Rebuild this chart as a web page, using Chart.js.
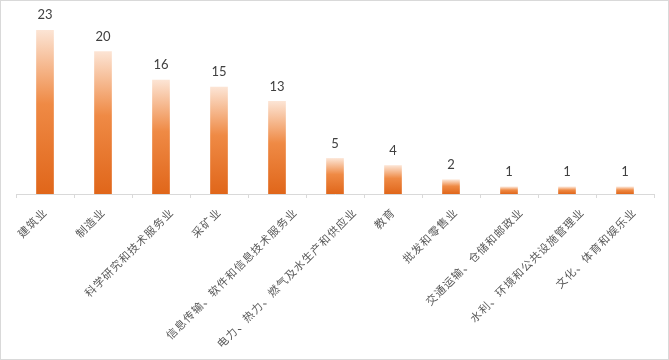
<!DOCTYPE html>
<html>
<head>
<meta charset="utf-8">
<script src="https://cdn.jsdelivr.net/npm/chart.js@4.4.1/dist/chart.umd.min.js"></script>
<style>
  html, body { margin: 0; padding: 0; background: #fff; }
  #wrap { width: 669px; height: 360px; position: relative; }
</style>
</head>
<body>
<div id="wrap"><canvas id="barChart" width="669" height="360"></canvas></div>
<script>
/* ===== DATA ===== */
const categories = [
    "建筑业",
    "制造业",
    "科学研究和技术服务业",
    "采矿业",
    "信息传输、软件和信息技术服务业",
    "电力、热力、燃气及水生产和供应业",
    "教育",
    "批发和零售业",
    "交通运输、仓储和邮政业",
    "水利、环境和公共设施管理业",
    "文化、体育和娱乐业"
];
const counts = [23, 20, 16, 15, 13, 5, 4, 2, 1, 1, 1];
const yMin = 0;
const yMax = 25;

/* ===== gradient per bar (light top -> dark bottom) ===== */
function barGradient(c) {
    const chart = c.chart;
    const y = chart.scales.y;
    if (!chart.chartArea || !y || c.raw === undefined) return "#ED7D31";
    const top = y.getPixelForValue(c.raw);
    const base = y.getPixelForValue(0);
    const g = chart.ctx.createLinearGradient(0, top, 0, base);
    g.addColorStop(0, "#FCE4D4");
    g.addColorStop(0.45, "#EF8A45");
    g.addColorStop(1, "#E0661A");
    return g;
}

/* ===== value labels + rotated category labels + frame ===== */
const labelPlugin = {
    id: "labelPlugin",
    afterDatasetsDraw(chart) {
        const ctx = chart.ctx;
        const meta = chart.getDatasetMeta(0);
        const xs = chart.scales.x;

        ctx.save();
        ctx.fillStyle = "#404040";
        ctx.font = "13px Lato, 'Open Sans', sans-serif";
        ctx.textAlign = "center";
        ctx.textBaseline = "middle";
        meta.data.forEach((bar, i) => {
            ctx.fillText(String(counts[i]), bar.x, bar.y - 15);
        });
        ctx.restore();

        // category labels, rotated -45°, longer ones pushed a bit to the right
        ctx.save();
        ctx.fillStyle = "#595959";
        ctx.font = "11px 'Noto Sans CJK SC', sans-serif";
        ctx.letterSpacing = "1px";
        ctx.textAlign = "right";
        ctx.textBaseline = "middle";
        const yTop = chart.chartArea.bottom + 16;
        categories.forEach((lab, i) => {
            const w = ctx.measureText(lab).width;
            const shift = 0.125 * Math.max(0, w - 36);
            const x = xs.getPixelForValue(i) + shift;
            ctx.save();
            ctx.translate(x, yTop);
            ctx.rotate(-Math.PI / 4);
            ctx.fillText(lab, 0, 0);
            ctx.restore();
        });
        ctx.restore();
    },
    afterDraw(chart) {
        const ctx = chart.ctx;
        ctx.save();
        ctx.strokeStyle = "#d9d9d9";
        ctx.lineWidth = 1;
        ctx.strokeRect(0.5, 0.5, chart.width - 1, chart.height - 1);
        ctx.restore();
    }
};

new Chart(document.getElementById("barChart").getContext("2d"), {
    type: "bar",
    data: {
        labels: categories,
        datasets: [{
            data: counts,
            backgroundColor: barGradient,
            borderWidth: 0,
            barThickness: 17
        }]
    },
    options: {
        responsive: false,
        animation: false,
        devicePixelRatio: 1,
        layout: { padding: { left: 16, right: 15, top: 16, bottom: 0 } },
        plugins: {
            legend: { display: false },
            tooltip: { enabled: false },
            title: { display: false }
        },
        scales: {
            y: { display: false, min: yMin, max: yMax },
            x: {
                offset: true,
                grid: {
                    offset: true,
                    drawOnChartArea: false,
                    drawTicks: true,
                    tickLength: 4,
                    color: "#d9d9d9"
                },
                border: { display: true, color: "#d9d9d9", width: 1 },
                ticks: { display: false },
                afterFit(scale) { scale.height = 166; }
            }
        }
    },
    plugins: [labelPlugin]
});
</script>
</body>
</html>
